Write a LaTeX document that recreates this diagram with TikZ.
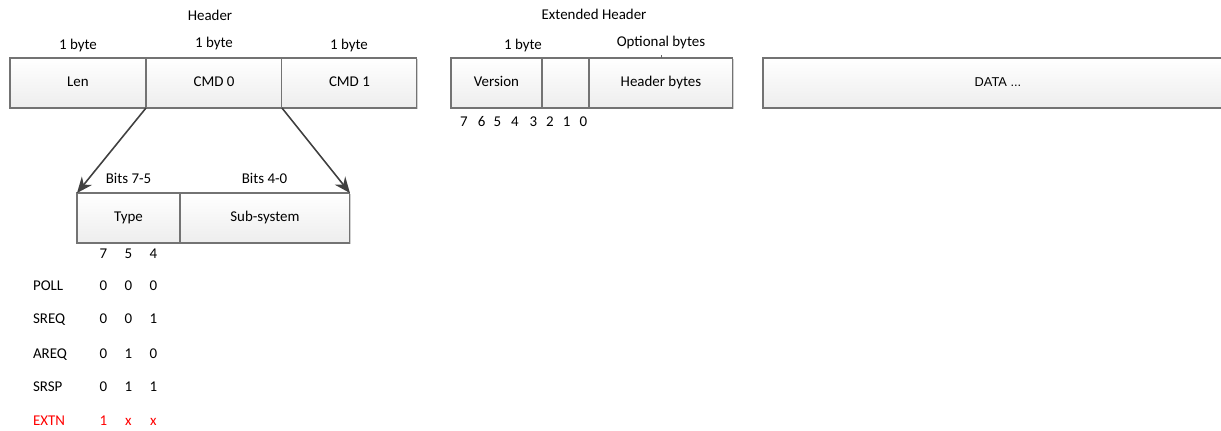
\documentclass[tikz,border=0pt]{standalone}
\usepackage{fontspec}
\setmainfont{Carlito}
\newfontfamily\datafont{Liberation Sans}
\usetikzlibrary{positioning, arrows.meta, shadows}

\begin{document}
\begin{tikzpicture}[
  x=0.02cm, y=-0.02cm,
  %% packet field boxes
  fbox/.style={
    rectangle, draw=black!55, line width=0.6pt,
    top color=white, bottom color=black!7,
    drop shadow={shadow xshift=0.8pt, shadow yshift=-0.8pt, fill=black!30, opacity=0.6},
    minimum height=1.0cm, inner sep=0pt, outer sep=0pt,
    text height=6pt, text depth=1.6pt,
    font=\fontsize{8.5}{10}\selectfont
  },
  %% plain labels
  lbl/.style={font=\fontsize{8.5}{10}\selectfont, inner sep=0pt,
    text height=6pt, text depth=1.6pt},
  %% extension row
  extn/.style={lbl, text=red},
  %% arrows
  arr/.style={-{Stealth[length=9pt,width=7.5pt]}, line width=0.9pt, draw=black!75}
]
\useasboundingbox (0,0) rectangle (1221,431);

%% ================================================================
%% HEADER
%% ================================================================
\node[fbox, minimum width=2.72cm] (len) at (78,83) {Len};
\node[fbox, minimum width=2.72cm, right=0pt of len] (cmd0) {CMD 0};
\node[fbox, minimum width=2.70cm, right=0pt of cmd0] (cmd1) {CMD 1};

\node[lbl] (hdrlbl) at (210,17) {Header};
\node[lbl] (lenlbl) at (78,46) {1 byte};
\node[lbl] (cmd0lbl) at (214,44) {1 byte};
\node[lbl] (cmd1lbl) at (349,46) {1 byte};

%% ================================================================
%% EXTENDED HEADER
%% ================================================================
\node[fbox, minimum width=1.82cm] (version) at (496.5,83) {Version};
\node[fbox, minimum width=0.94cm, right=0pt of version] (resv) {};
\node[fbox, minimum width=2.88cm, right=0pt of resv] (hdrbytes) {Header bytes};

\node[lbl] (extlbl) at (594,16) {Extended Header};
\node[lbl] (verlbl) at (523,46) {1 byte};
\node[lbl] (optlbl) at (661,43) {Optional bytes};
\draw[black!60, line width=0.4pt] (hdrbytes.north) -- ++(0,-3);

%% bit numbers under the version byte
\foreach \x/\b in {464/7, 481.7/6, 497.3/5, 515/4, 533.3/3, 550/2, 566.7/1, 583.3/0}
  \node[lbl] (bit\b) at (\x,123) {\b};

%% ================================================================
%% DATA
%% ================================================================
\node[fbox, minimum width=9.4cm, anchor=west,
      font=\datafont\fontsize{7.3}{9}\selectfont] (data) at (763,83) {DATA ...};

%% ================================================================
%% CMD 0 BREAKDOWN
%% ================================================================
\node[fbox, minimum width=2.06cm] (type) at (128.5,218) {Type};
\node[fbox, minimum width=3.40cm, right=0pt of type] (subsys) {Sub-system};

\node[lbl] (typelbl) at (128.5,180) {Bits 7-5};
\node[lbl] (subslbl) at (264.5,180) {Bits 4-0};

\draw[arr] (cmd0.south west) -- (type.north west);
\draw[arr] (cmd0.south east) -- (subsys.north east);

%% type bit table
\foreach \x/\b in {103.3/7, 128.3/5, 153.3/4}
  \node[lbl] (col\b) at (\x,255) {\b};

\foreach \name/\y/\p/\q/\r in {POLL/287/0/0/0, SREQ/320/0/0/1, AREQ/355/0/1/0, SRSP/388/0/1/1} {
  \node[lbl, anchor=west] (\name) at (32.7,\y) {\name};
  \node[lbl] (\name a) at (103.3,\y) {\p};
  \node[lbl] (\name b) at (128.3,\y) {\q};
  \node[lbl] (\name c) at (153.3,\y) {\r};
}

\node[extn, anchor=west] (EXTN) at (32.7,422) {EXTN};
\node[extn] (EXTNa) at (103.3,422) {1};
\node[extn] (EXTNb) at (128.3,422) {x};
\node[extn] (EXTNc) at (153.3,422) {x};

\end{tikzpicture}
\end{document}
